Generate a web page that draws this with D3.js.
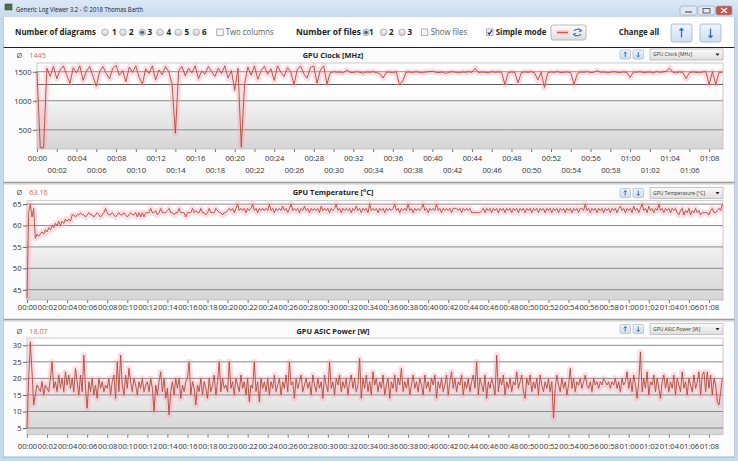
<!DOCTYPE html>
<html><head><meta charset="utf-8">
<script src="https://cdn.jsdelivr.net/npm/d3@7"></script>
<style>
body{margin:0;background:#fff}
svg{display:block}
text{font-family:"Open Sans","Noto Sans",sans-serif}
</style>
</head><body>
<svg id="c" width="738" height="461"></svg>
<script>
// ---------------- DATA ----------------
const clockSampleSeconds = 20;
const tempSampleSeconds = 10;
const powerSampleSeconds = 10;
const xTickMinutes = [0,2,4,6,8,10,12,14,16,18,20,22,24,26,28,30,32,34,36,38,40,42,44,46,48,50,52,54,56,58,60,62,64,66,68];
const xTickLabels = ["00:00","00:02","00:04","00:06","00:08","00:10","00:12","00:14","00:16","00:18","00:20","00:22","00:24","00:26","00:28","00:30","00:32","00:34","00:36","00:38","00:40","00:42","00:44","00:46","00:48","00:50","00:52","00:54","00:56","00:58","01:00","01:02","01:04","01:06","01:08"];

const clockValues = [
1500,190,190,1560,1420,1590,1380,1530,1600,1450,1300,1570,1480,1600,1350,1510,1590,1420,1250,1500,
1590,1470,1380,1560,1610,1440,1520,1330,1580,1490,1600,1400,1290,1550,1470,1600,1360,1530,1450,1590,
1500,1280,440,1520,1590,1430,1560,1480,1600,1380,1510,1460,1590,1500,1420,1560,1470,1600,1390,1520,
1180,1560,200,1300,1580,1440,1600,1370,1520,1590,1460,1550,1350,1600,1490,1420,1570,1500,1280,1540,
1600,1460,1390,1570,1600,1300,1530,1600,1290,1480,1500,1490,1495,1480,1530,1490,1485,1500,1490,1475,
1495,1490,1500,1485,1470,1390,1490,1495,1480,1500,1280,1340,1490,1495,1485,1500,1490,1480,1495,1500,
1510,1490,1485,1495,1470,1490,1500,1490,1480,1495,1490,1500,1490,1560,1485,1495,1490,1480,1500,1490,
1495,1490,1280,1480,1495,1490,1310,1485,1495,1490,1500,1480,1360,1490,1230,1480,1495,1490,1500,1485,
1490,1495,1480,1280,1470,1495,1490,1500,1485,1490,1520,1490,1495,1480,1490,1500,1490,1485,1495,1490,
1400,1495,1490,1500,1485,1490,1495,1480,1500,1490,1495,1510,1560,1490,1480,1495,1490,1380,1485,1495,
1490,1480,1495,1500,1280,1500,1280,1490,1490];

const tempValues = [
43,63,65,62,64,57,58,57.5,58,58.5,58,59,58.5,59.5,59,60,59.5,60.5,60,61,60,61,60.5,61.5,
61,61.5,61,62.5,62.5,62,62.5,62.5,63,62.5,62.5,62,62.5,63,62.5,62.5,62,62.5,63,62.5,62,62.5,63,64,
63,62.5,62.5,63,62.5,62,62.5,63,62.5,62.5,63,62.5,62,62.5,63,62.5,62.5,63,62,63,62,63,62,63,
63,63,64,63,63,63.5,62.5,63,64,63,63,63,63.5,64,63,63,62.5,63,63,64,63,63,63,62,
63,63,63,64,63,63.5,63,63,64,63,63,62.5,63,64,63,63,63,64,63.5,63,63,62.5,63,63,
63.5,64,63.5,64,63,64,65,63.5,64,63.5,64,63,64,63.5,64,65,63.5,64,63,64,63.5,64,63.5,64,
63.5,65,63.5,64,63,64,63.5,64,63.5,64.5,63.5,64,63,64,65,63.5,64,63.5,64,63,64,63.5,64.5,63.5,
64,63,64,63.5,64,63.5,64,63,64.5,63.5,64,63.5,64,63,64,63.5,64,65,63.5,64,63,64,63.5,64,
63.5,64,63,64,63.5,64.5,63.5,64,63,64,63.5,64,63,65,63.5,64,63.5,64,63,64,63.5,64,63,64,
63.5,64,63.5,64,65,63.5,64,63,64,63.5,64,63.5,65,63.5,64,63,64,63.5,64,63.5,64,65,63.5,64,
63,64,63.5,64,63.5,65,63.5,64,63,64,63.5,64,63.5,64,63,64,64,64,63.5,64,63,64,63.5,64,
63.5,64,63,63,63,63,63,63,63.5,64,63,64,63.5,64,63,64,63.5,64,63,64,63.5,64,63,64,
63.5,64,63,64,63.5,64,63,64,63.5,64,63,64,63.5,64,63,64,63.5,64,63,64,63.5,64,63,64,
63.5,64,63,64,63.5,64,63,64,63.5,64,63,64,63.5,64,63,64,63.5,64,63,64,64,63.5,65,63.5,
64,63,64,63.5,64,63,64,63.5,64,63,64,63.5,64,63,64,63.5,64,63,64,64.5,63.5,64,63,64,
63.5,64,63,64.5,63.5,64,63,64,65,63.5,64,63,64.5,63.5,64,63,64,63.5,65,63.5,64,63,64,63.5,
64,63,64,63.5,64,63,62.5,63.5,64,62.5,63.5,63,64,62.5,63.5,63,64,63,63.5,62.5,63,63,63,63,
62.5,63.5,64,63,63,63.5,64,63.5,65];

const powerValues = [
5,20,31,22,12,15,18,17,16,19,15,18,17,16,20,25,17,19,16,21,17,20,16,22,
18,21,17,20,16,23,19,15,21,16,27,17,11,19,16,20,15,18,14,20,17,19,16,18,
17,20,15,19,21,14,25,16,27,18,15,21,17,23,19,16,20,18,15,19,17,20,16,18,
19,16,20,17,10,18,15,19,22,16,20,14,17,9,16,19,15,20,17,20,14,18,16,19,
20,25,15,19,17,12,18,16,20,15,19,17,14,20,16,18,21,15,19,25,16,20,17,18,
16,25,17,19,15,20,18,16,21,17,19,15,20,13,18,17,25,16,19,13,20,17,19,16,
20,15,19,17,21,16,18,20,15,19,17,21,16,25,18,19,14,20,17,19,21,16,18,20,
17,19,15,21,18,16,20,17,19,14,21,18,16,25,17,19,15,20,18,21,16,19,17,20,
15,19,21,17,20,16,18,26,14,20,17,21,16,19,15,22,18,20,16,19,17,21,15,18,
20,14,19,17,21,16,20,18,23,16,19,17,20,15,18,21,17,19,16,20,18,15,21,17,
19,16,20,18,21,14,19,17,20,16,18,21,15,19,22,17,20,16,19,18,21,15,19,17,
20,16,19,21,17,25,15,20,18,16,21,14,19,17,20,18,15,27,16,20,18,21,15,19,
17,20,16,19,18,22,17,19,21,16,14,20,18,21,16,19,17,20,15,21,18,16,19,17,
20,16,19,8,17,21,18,16,20,17,19,15,18,23,17,20,16,19,18,20,17,19,21,18,
17,19,16,20,18,19,17,19,18,20,19,18,19,17,19,18,20,17,19,16,20,18,19,22,
17,20,16,21,18,14,19,28,16,20,17,22,15,19,18,21,16,20,17,14,19,21,17,20,
16,19,17,21,15,20,18,16,22,17,19,15,20,18,16,21,17,19,22,15,21,22,16,22,
17,21,15,20,18,13,12,16,20];

const clockTicks = [500,1000,1500];
const clockRefLines = [1280];
const tempTicks = [45,50,55,60,65];
const powerTicks = [5,10,15,20,25,30];
const panelTitles = ["GPU Clock [MHz]","GPU Temperature [°C]","GPU ASIC Power [W]"];
const panelAverages = ["1445","63.16","18.07"];

// ---------------- DRAWING ----------------
const svg = d3.select("#c");
const defs = svg.append("defs");

function lin(id, stops){
  const g = defs.append("linearGradient").attr("id",id).attr("x1",0).attr("y1",0).attr("x2",0).attr("y2",1);
  stops.forEach(s=>g.append("stop").attr("offset",s[0]).attr("stop-color",s[1]));
}
lin("titleG",[[0,"#dce8f5"],[1,"#c9daee"]]);
lin("plotG",[[0,"#ffffff"],[0.38,"#fdfdfd"],[0.5,"#efefef"],[1,"#d5d5d5"]]);
lin("btnG",[[0,"#fbfbfb"],[1,"#dedede"]]);
lin("blueBtnG",[[0,"#eef4fb"],[1,"#cfdff0"]]);
lin("radioG",[[0,"#f6f6f6"],[1,"#cfcfcf"]]);

function txt(x,y,s,o={}){
  const t = svg.append("text").attr("x",x).attr("y",y).text(s)
    .attr("font-size",o.size||9).attr("fill",o.fill||"#1e1e1e")
    .attr("font-weight",o.bold?"bold":"normal")
    .attr("text-anchor",o.anchor||"start");
  if(o.len){t.attr("textLength",o.len).attr("lengthAdjust","spacingAndGlyphs");}
  return t;
}

// window frame
svg.append("rect").attr("x",0).attr("y",0).attr("width",738).attr("height",461).attr("fill","#c6d8ec");
svg.append("rect").attr("x",0).attr("y",0).attr("width",738).attr("height",17).attr("fill","url(#titleG)");
svg.append("rect").attr("x",5).attr("y",4).attr("width",7).attr("height",6).attr("fill","#4f6f4f").attr("stroke","#2f3f2f").attr("stroke-width",0.5);
txt(16,11.5,"Generic Log Viewer 3.2 - © 2018 Thomas Barth",{size:7,fill:"#1a1a1a",len:127});
[[680,697,"#dfe8f3"],[698,715,"#dfe8f3"],[716,732,"#c9524a"]].forEach(b=>{
  svg.append("rect").attr("x",b[0]).attr("y",6).attr("width",b[1]-b[0]).attr("height",9).attr("rx",2)
    .attr("fill",b[2]).attr("stroke","#8fa3bd").attr("stroke-width",0.6);
});
svg.append("line").attr("x1",685).attr("x2",692).attr("y1",12).attr("y2",12).attr("stroke","#555").attr("stroke-width",1.2);
svg.append("rect").attr("x",703).attr("y",8.5).attr("width",7).attr("height",4.5).attr("fill","none").attr("stroke","#555").attr("stroke-width",0.9);
svg.append("path").attr("d","M721,8 L727,13 M727,8 L721,13").attr("stroke","#fff").attr("stroke-width",1.3);

// client area
svg.append("rect").attr("x",3).attr("y",17).attr("width",732).attr("height",440).attr("fill","#ffffff");
svg.append("line").attr("x1",3).attr("x2",735).attr("y1",47.5).attr("y2",47.5).attr("stroke","#202020").attr("stroke-width",1.2);

function radio(cx,cy,sel){
  svg.append("circle").attr("cx",cx).attr("cy",cy).attr("r",3.3).attr("fill","url(#radioG)").attr("stroke","#939393").attr("stroke-width",0.7);
  if(sel) svg.append("circle").attr("cx",cx).attr("cy",cy).attr("r",1.9).attr("fill","#55628f");
}
function check(x,y,on){
  svg.append("rect").attr("x",x).attr("y",y).attr("width",6.5).attr("height",6.5).attr("fill","#f3f3f3").attr("stroke","#939393").attr("stroke-width",0.7);
  if(on) svg.append("path").attr("d",`M${x+1.2},${y+3.4} L${x+2.8},${y+5.2} L${x+5.6},${y+1}`).attr("fill","none").attr("stroke","#26306a").attr("stroke-width",1.2);
}
const tbY = 35.3;
txt(15,tbY,"Number of diagrams",{bold:true,len:81});
[[105,112,"1",false],[123,129,"2",false],[142.2,147.5,"3",true],[160,166.5,"4",false],[178.3,184.5,"5",false],[196.3,202,"6",false]]
 .forEach(r=>{radio(r[0],32.3,r[3]); txt(r[1],tbY,r[2],{bold:true,len:4.6});});
check(216.7,29,false);
txt(225.7,tbY,"Two columns",{fill:"#5a5a5a",len:48});
txt(296,tbY,"Number of files",{bold:true,len:65});
[[366,369,"1",true],[383.5,389,"2",false],[402,407.5,"3",false]]
 .forEach(r=>{radio(r[0],32.3,r[3]); txt(r[1],tbY,r[2],{bold:true,len:4.6});});
check(421.3,29,false);
txt(430.7,tbY,"Show files",{fill:"#5a5a5a",len:36.5});
check(486.5,29,true);
txt(495.7,tbY,"Simple mode",{bold:true,len:50.6});
svg.append("rect").attr("x",551).attr("y",25).attr("width",35).attr("height",15).attr("rx",2).attr("fill","url(#btnG)").attr("stroke","#a9a9a9").attr("stroke-width",0.8);
svg.append("rect").attr("x",556).attr("y",30).attr("width",13).attr("height",5).attr("fill","#fbd3dc");
svg.append("line").attr("x1",557).attr("x2",568).attr("y1",32.5).attr("y2",32.5).attr("stroke","#c0603c").attr("stroke-width",1.5);
svg.append("path").attr("d","M574,31 A4,3 0 0 1 581,30.5 M579.5,29 L581.5,30.8 L579,31.8 M581,34 A4,3 0 0 1 574,34.5 M575.5,36 L573.5,34.2 L576,33.2")
  .attr("fill","none").attr("stroke","#3f72c4").attr("stroke-width",1.1);
txt(618.7,tbY,"Change all",{bold:true,len:40.5});
[[671,"up"],[700,"down"]].forEach(b=>{
  svg.append("rect").attr("x",b[0]).attr("y",24).attr("width",21).attr("height",18).attr("rx",2).attr("fill","url(#blueBtnG)").attr("stroke","#a3b4c8").attr("stroke-width",0.8);
  const cx=b[0]+10.5;
  const d = b[1]==="up" ? `M${cx},28.5 L${cx},37.5 M${cx-2},30.5 L${cx},28.5 L${cx+2},30.5` : `M${cx},28.5 L${cx},37.5 M${cx-2},35.5 L${cx},37.5 L${cx+2},35.5`;
  svg.append("path").attr("d",d).attr("fill","none").attr("stroke","#3a6fc8").attr("stroke-width",1.3);
});

// panels
const xDomain = [0, 69.4];
const panels = [
  {vals:clockValues,sec:clockSampleSeconds,ticks:clockTicks,ref:clockRefLines,yd:[170,1650],L:37,T:63,B:149,bgT:48,bgB:182,hy:55.5,by:50,twoRow:true,lab:161},
  {vals:tempValues,sec:tempSampleSeconds,ticks:tempTicks,ref:[],yd:[42.6,65.8],L:27,T:200.7,B:300,bgT:185,bgB:319,hy:192.5,by:188.5,twoRow:false,lab:309.5},
  {vals:powerValues,sec:powerSampleSeconds,ticks:powerTicks,ref:[],yd:[3,32.2],L:27,T:338,B:434.7,bgT:322,bgB:457,hy:331,by:324.5,twoRow:false,lab:449}
];
const R = 723;

panels.forEach((p,k)=>{
  svg.append("rect").attr("x",3).attr("y",p.bgT).attr("width",732).attr("height",p.bgB-p.bgT).attr("fill","#fcfcfc");
  if(k<2){
    svg.append("rect").attr("x",3).attr("y",p.bgB).attr("width",732).attr("height",3).attr("fill","#e4e4e4");
    svg.append("line").attr("x1",3).attr("x2",735).attr("y1",p.bgB+0.5).attr("y2",p.bgB+0.5).attr("stroke","#9c9c9c").attr("stroke-width",1.4);
  }
  const x = d3.scaleLinear().domain(xDomain).range([p.L,R]);
  const y = d3.scaleLinear().domain(p.yd).range([p.B,p.T]);
  txt(16.5,p.hy+2.5,"Ø",{size:7.5,fill:"#555"});
  txt(29.3,p.hy+2.5,panelAverages[k],{size:7.2,fill:"#c8725e"});
  txt(333,p.hy+2.5,panelTitles[k],{size:7.4,bold:true,anchor:"middle"});
  [[620,"up"],[633,"down"]].forEach(b=>{
    svg.append("rect").attr("x",b[0]).attr("y",p.by).attr("width",10.5).attr("height",9).attr("rx",1.2).attr("fill","url(#blueBtnG)").attr("stroke","#9fb0c8").attr("stroke-width",0.6);
    const cx=b[0]+5.25, t=p.by+2, e=p.by+7;
    const d = b[1]==="up" ? `M${cx},${t} L${cx},${e} M${cx-1.6},${t+1.6} L${cx},${t} L${cx+1.6},${t+1.6}` : `M${cx},${t} L${cx},${e} M${cx-1.6},${e-1.6} L${cx},${e} L${cx+1.6},${e-1.6}`;
    svg.append("path").attr("d",d).attr("fill","none").attr("stroke","#3a6fc8").attr("stroke-width",1);
  });
  svg.append("rect").attr("x",650).attr("y",p.by-1).attr("width",73).attr("height",11).attr("fill","url(#btnG)").attr("stroke","#a6a6a6").attr("stroke-width",0.6);
  txt(653,p.by+6.3,panelTitles[k],{size:5,fill:"#333"});
  svg.append("path").attr("d",`M${715.5},${p.by+3.6} L${719.5},${p.by+3.6} L${717.5},${p.by+6}`).attr("fill","#222");

  svg.append("rect").attr("x",p.L).attr("y",p.T).attr("width",R-p.L).attr("height",p.B-p.T)
    .attr("fill","url(#plotG)").attr("stroke","#bdbdbd").attr("stroke-width",0.8);
  p.ticks.concat(p.ref).forEach(v=>{
    svg.append("line").attr("x1",p.L).attr("x2",R).attr("y1",y(v)).attr("y2",y(v))
      .attr("stroke", p.ref.includes(v) ? "#5a5a5a" : "#8a8a8a").attr("stroke-width",1);
  });
  const clipId = "clip"+k;
  defs.append("clipPath").attr("id",clipId).append("rect").attr("x",p.L-2).attr("y",p.T-1).attr("width",R-p.L+3).attr("height",p.B-p.T+1);
  const line = d3.line().x((d,i)=>x(i*p.sec/60)).y(d=>y(d));
  const g = svg.append("g").attr("clip-path",`url(#${clipId})`);
  g.append("path").datum(p.vals).attr("d",line).attr("fill","none")
    .attr("stroke","#ff9fb4").attr("stroke-opacity",0.33).attr("stroke-width",6).attr("stroke-linejoin","round");
  g.append("path").datum(p.vals).attr("d",line).attr("fill","none")
    .attr("stroke","#b04a3a").attr("stroke-width",0.9).attr("stroke-linejoin","round");

  const ya = svg.append("g").attr("transform",`translate(${p.L},0)`)
    .call(d3.axisLeft(y).tickValues(p.ticks).tickSize(4).tickPadding(1.5).tickFormat(d3.format("d")));
  ya.select(".domain").remove();
  ya.selectAll("line").attr("stroke","#666");
  ya.selectAll("text").attr("font-size",7.6).attr("fill","#333").attr("font-family",null);

  const xa = svg.append("g").attr("transform",`translate(0,${p.B})`)
    .call(d3.axisBottom(x).tickValues(xTickMinutes).tickSize(3).tickFormat((d,i)=>xTickLabels[i]));
  xa.select(".domain").remove();
  xa.selectAll("line").attr("stroke","#777");
  xa.selectAll("text").attr("font-size",7.8).attr("fill","#333").attr("font-family",null)
    .attr("dy",null)
    .attr("y",(d,i)=> (p.twoRow && i%2===1) ? p.lab+12-p.B : p.lab-p.B)
    .attr("textLength",19.4).attr("lengthAdjust","spacingAndGlyphs");
});

svg.append("rect").attr("x",0).attr("y",457).attr("width",738).attr("height",4).attr("fill","#b8e0ee");
svg.append("line").attr("x1",3).attr("x2",735).attr("y1",457).attr("y2",457).attr("stroke","#8aa7bb").attr("stroke-width",0.8);
svg.append("line").attr("x1",3.5).attr("x2",3.5).attr("y1",17).attr("y2",457).attr("stroke","#a9bdd3").attr("stroke-width",0.8);
svg.append("line").attr("x1",734.5).attr("x2",734.5).attr("y1",17).attr("y2",457).attr("stroke","#a9bdd3").attr("stroke-width",0.8);
</script>
</body></html>
